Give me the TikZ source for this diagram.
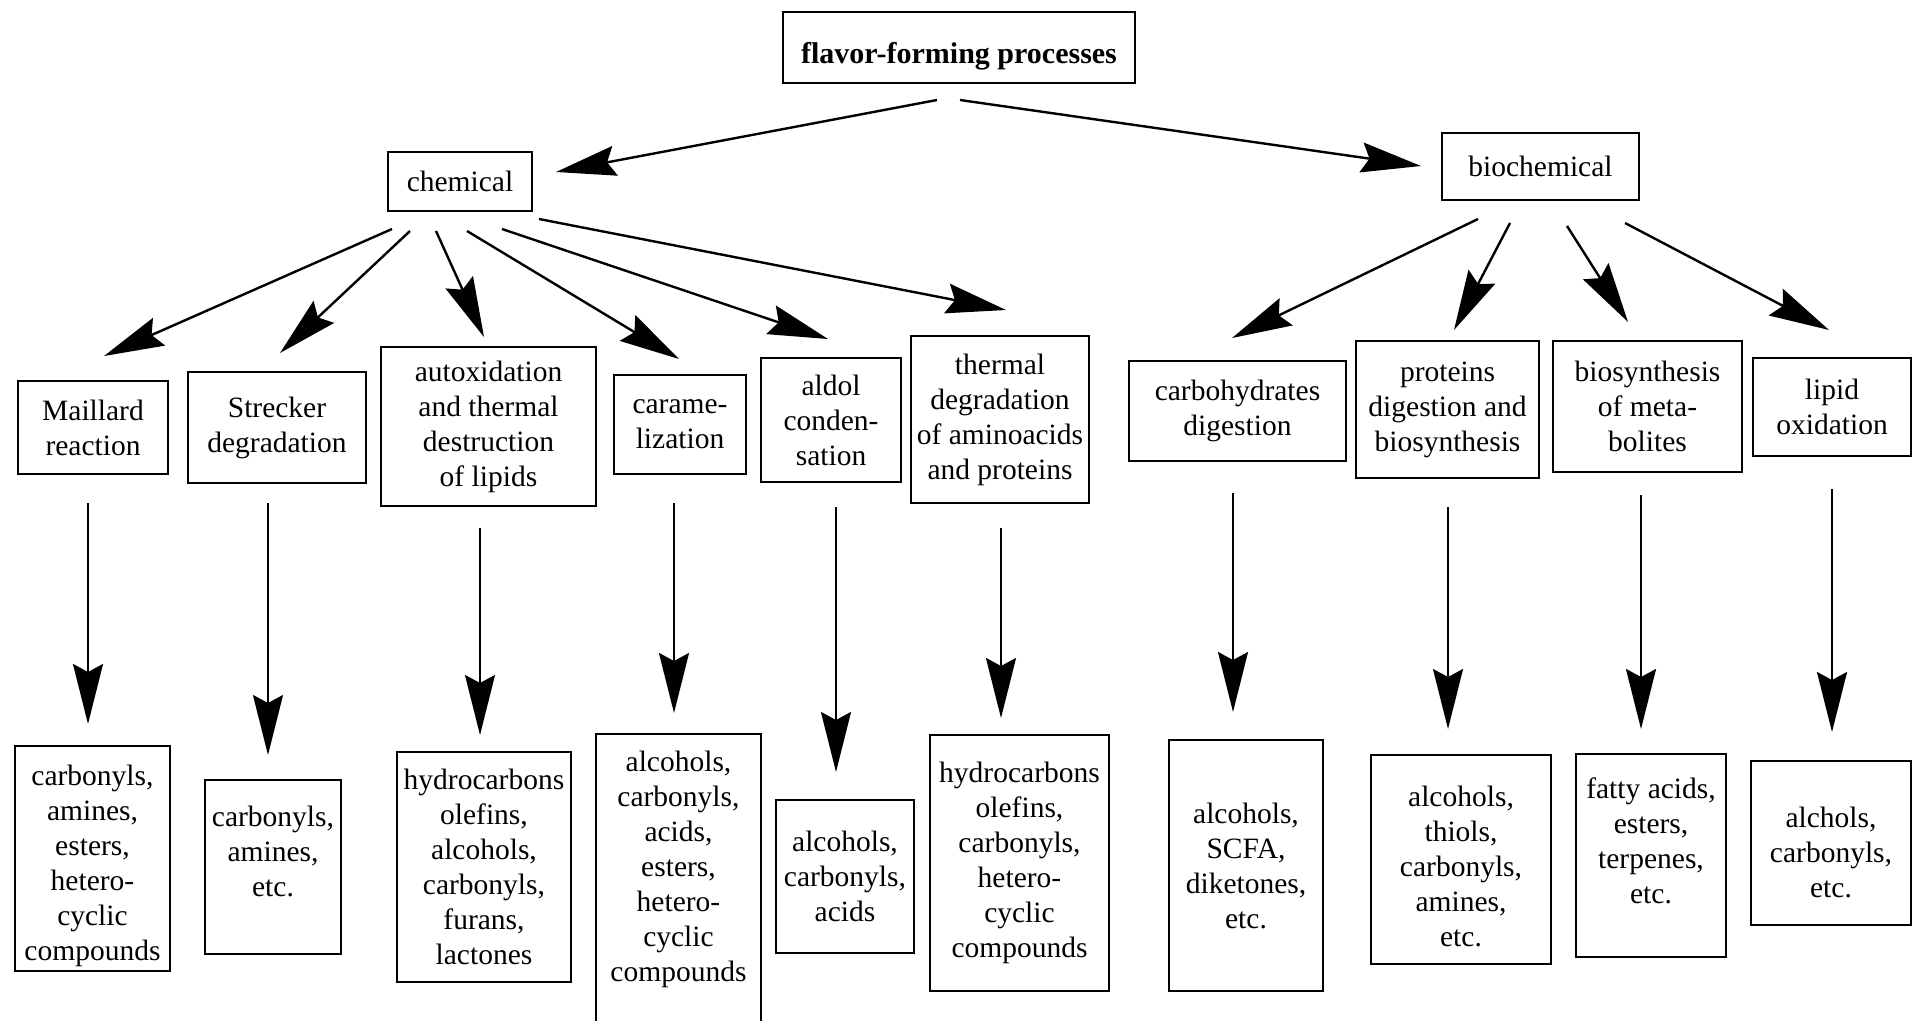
\documentclass[tikz,border=0pt]{standalone}
\usepackage{fontspec}
\setmainfont{Liberation Serif}
\usetikzlibrary{arrows.meta}
\begin{document}
\begin{tikzpicture}[x=1pt,y=-1pt,
  box/.style={draw, line width=2.4pt, inner sep=0pt, align=center,
    font=\fontsize{29.5}{35}\selectfont},
  arr/.style={line width=2.4pt, -{Stealth[length=60pt,width=30pt,inset=8pt]}}]
\useasboundingbox (0,0) rectangle (1913,1020);
% top level
\node[box, font=\fontsize{30}{35}\selectfont\bfseries, minimum width=352pt, minimum height=71pt] (top) at (959,47.5) {\mbox{}\\[3.5pt]flavor-forming processes};
\node[box, minimum width=144pt, minimum height=59pt] (chem) at (460,181.5) {chemical};
\node[box, minimum width=197pt, minimum height=67pt] (bio) at (1540.5,166.5) {biochemical};
% second row
\node[box, minimum width=150pt, minimum height=93pt] (maill) at (93,427.5) {Maillard\\reaction};
\node[box, minimum width=178pt, minimum height=111pt] (strk) at (277,427.5) {Strecker\\degradation};
\node[box, minimum width=215pt, minimum height=159pt] (autox) at (488.5,426.5) {autoxidation\\and thermal\\destruction\\of lipids};
\node[box, minimum width=132pt, minimum height=99pt] (caram) at (680,424.5) {carame-\\lization};
\node[box, minimum width=140pt, minimum height=124pt] (aldol) at (831,420) {aldol\\conden-\\sation};
\node[box, minimum width=178pt, minimum height=167pt] (therm) at (1000,419.5) {thermal\\degradation\\of aminoacids\\and proteins};
\node[box, minimum width=217pt, minimum height=100pt] (carbo) at (1237.5,411) {carbohydrates\\digestion};
\node[box, minimum width=183pt, minimum height=137pt] (prot) at (1447.5,409.5) {proteins\\digestion and\\biosynthesis};
\node[box, minimum width=189pt, minimum height=131pt] (biosyn) at (1647.5,406.5) {biosynthesis\\of meta-\\bolites};
\node[box, minimum width=158pt, minimum height=98pt] (lipid) at (1832,407) {lipid\\oxidation};
% third row
\node[box, minimum width=155pt, minimum height=225pt] (r1) at (92.5,858.5) {\mbox{}\\[0pt]carbonyls,\\amines,\\esters,\\hetero-\\cyclic\\compounds};
\node[box, minimum width=136pt, minimum height=174pt] (r2) at (273,867) {carbonyls,\\amines,\\etc.\\[-3pt]\mbox{}};
\node[box, minimum width=174pt, minimum height=230pt] (r3) at (484,867) {hydrocarbons\\olefins,\\alcohols,\\carbonyls,\\furans,\\lactones};
\node[box, minimum width=165pt, minimum height=301pt] (r4) at (678.5,884.5) {alcohols,\\carbonyls,\\acids,\\esters,\\hetero-\\cyclic\\compounds\\[1pt]\mbox{}};
\node[box, minimum width=138pt, minimum height=153pt] (r5) at (845,876.5) {alcohols,\\carbonyls,\\acids};
\node[box, minimum width=179pt, minimum height=256pt] (r6) at (1019.5,863) {hydrocarbons\\olefins,\\carbonyls,\\hetero-\\cyclic\\compounds};
\node[box, minimum width=154pt, minimum height=251pt] (r7) at (1246,865.5) {alcohols,\\SCFA,\\diketones,\\etc.};
\node[box, minimum width=180pt, minimum height=209pt] (r8) at (1461,859.5) {\mbox{}\\[0pt]alcohols,\\thiols,\\carbonyls,\\amines,\\etc.};
\node[box, minimum width=150pt, minimum height=203pt] (r9) at (1651,855.5) {fatty acids,\\esters,\\terpenes,\\etc.\\[-5pt]\mbox{}};
\node[box, minimum width=160pt, minimum height=164pt] (r10) at (1831,843) {\mbox{}\\[4pt]alchols,\\carbonyls,\\etc.};
% arrow end points
\coordinate (t1s) at (937,100);  \coordinate (t1e) at (556,172);
\coordinate (t2s) at (960,100);  \coordinate (t2e) at (1421,166);
\coordinate (c1s) at (392,229);  \coordinate (c1e) at (104,356);
\coordinate (c2s) at (410,231);  \coordinate (c2e) at (280,353);
\coordinate (c3s) at (436,231);  \coordinate (c3e) at (484,337);
\coordinate (c4s) at (467,231);  \coordinate (c4e) at (679,359);
\coordinate (c5s) at (502,229);  \coordinate (c5e) at (828,339);
\coordinate (c6s) at (539,219);  \coordinate (c6e) at (1006,310);
\coordinate (b1s) at (1478,219); \coordinate (b1e) at (1232,338);
\coordinate (b2s) at (1510,223); \coordinate (b2e) at (1454,330);
\coordinate (b3s) at (1567,226); \coordinate (b3e) at (1628,322);
\coordinate (b4s) at (1625,223); \coordinate (b4e) at (1829,330);
\coordinate (v1s) at (88,503);   \coordinate (v1e) at (88,724);
\coordinate (v2s) at (268,503);  \coordinate (v2e) at (268,755);
\coordinate (v3s) at (480,528);  \coordinate (v3e) at (480,735);
\coordinate (v4s) at (674,503);  \coordinate (v4e) at (674,713);
\coordinate (v5s) at (836,507);  \coordinate (v5e) at (836,772);
\coordinate (v6s) at (1001,528); \coordinate (v6e) at (1001,718);
\coordinate (v7s) at (1233,493); \coordinate (v7e) at (1233,712);
\coordinate (v8s) at (1448,507); \coordinate (v8e) at (1448,729);
\coordinate (v9s) at (1641,495); \coordinate (v9e) at (1641,729);
\coordinate (v10s) at (1832,489); \coordinate (v10e) at (1832,732);
% arrows
\foreach \a in {t1,t2,c1,c2,c3,c4,c5,c6,b1,b2,b3,b4,v1,v2,v3,v4,v5,v6,v7,v8,v9,v10}
  \draw[arr] (\a s) -- (\a e);
\end{tikzpicture}
\end{document}
